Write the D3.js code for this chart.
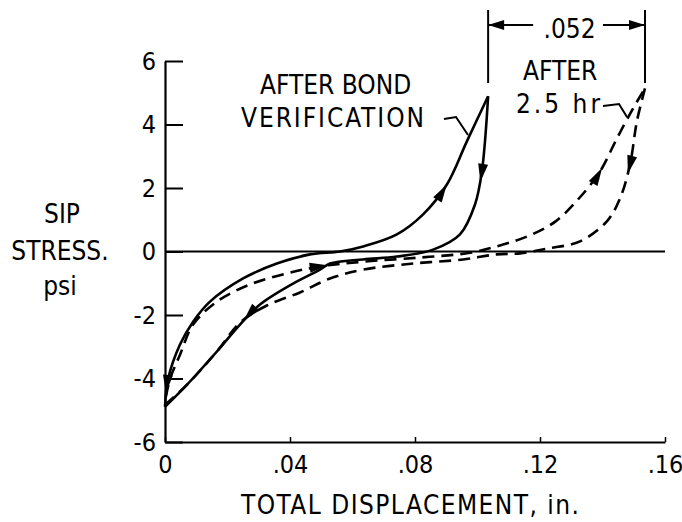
<!DOCTYPE html>
<html>
<head>
<meta charset="utf-8">
<script src="https://cdn.jsdelivr.net/npm/d3@7"></script>
<style>
  html, body { margin: 0; padding: 0; background: #fff; }
  svg { display: block; }
  text { font-family: "DejaVu Sans Condensed", "Liberation Sans Narrow", "DejaVu Sans", sans-serif; fill: #000; }
</style>
</head>
<body>
<svg id="chart" width="682" height="522"></svg>
<script>
// ---- data (x: total displacement, in.; y: SIP stress, psi) ----
const xTicks = [0, 0.04, 0.08, 0.12, 0.16];
const xTickLabels = ["0", ".04", ".08", ".12", ".16"];
const yTicks = [6, 4, 2, 0, -2, -4, -6];
const yTickLabels = ["6", "4", "2", "0", "-2", "-4", "-6"];

// After bond verification (solid) — loading branch
const bondLoad = [
  [0.0000, -4.89], [0.0010, -4.01], [0.0048, -2.93], [0.0090, -2.21], [0.0144, -1.58],
  [0.0250, -0.85], [0.0358, -0.38], [0.0464, -0.09], [0.0560, 0.00], [0.0634, 0.16],
  [0.0742, 0.54], [0.0826, 1.17], [0.0902, 2.11], [0.0966, 3.47], [0.1034, 4.89]
];
// After bond verification (solid) — unloading branch
const bondUnload = [
  [0.1034, 4.89], [0.1014, 2.52], [0.0992, 1.48], [0.0944, 0.54], [0.0858, 0.06],
  [0.0742, -0.16], [0.0634, -0.25], [0.0528, -0.38], [0.0496, -0.57], [0.0410, -1.01],
  [0.0304, -1.67], [0.0240, -2.30], [0.0166, -3.15], [0.0070, -4.20], [0.0000, -4.89]
];
// After 2.5 hr (dashed) — loading branch
const hrLoad = [
  [0.0003, -4.57], [0.0016, -4.01], [0.0048, -3.25], [0.0090, -2.30], [0.0166, -1.58],
  [0.0272, -1.04], [0.0390, -0.69], [0.0496, -0.47], [0.0634, -0.32], [0.0816, -0.19],
  [0.0976, -0.04], [0.1082, 0.22], [0.1170, 0.52], [0.1250, 0.95], [0.1320, 1.62],
  [0.1392, 2.52], [0.1446, 3.56], [0.1498, 4.51], [0.1536, 5.14]
];
// After 2.5 hr (dashed) — unloading branch
const hrUnload = [
  [0.1536, 5.14], [0.1510, 4.10], [0.1488, 2.74], [0.1456, 1.67], [0.1414, 0.95],
  [0.1328, 0.32], [0.1222, 0.09], [0.1136, -0.06], [0.1062, -0.09], [0.0954, -0.25],
  [0.0794, -0.38], [0.0634, -0.57], [0.0528, -0.85], [0.0432, -1.29], [0.0326, -1.70],
  [0.0240, -2.24], [0.0166, -3.15], [0.0070, -4.20], [0.0003, -4.80]
];
// arrowheads: series, location (data), direction (+1 along point order, -1 reverse)
const arrows = [
  { series: "bondLoad", x: 0.0896, y: 2.15, dir: 1 },
  { series: "bondUnload", x: 0.1005, y: 2.20, dir: 1 },
  { series: "hrLoad", x: 0.1405, y: 2.60, dir: 1 },
  { series: "hrUnload", x: 0.1482, y: 2.45, dir: 1 },
  { series: "hrLoad", x: 0.0520, y: -0.42, dir: 1 },
  { series: "bondUnload", x: 0.0250, y: -2.15, dir: 1 },
  { series: "bondLoad", x: 0.0004, y: -4.45, dir: -1 }
];
const dimensionValue = ".052";

// ---- drawing ----
const svg = d3.select("#chart");
const x = d3.scaleLinear().domain([0, 0.16]).range([165, 665]);
const y = d3.scaleLinear().domain([-6, 6]).range([442, 61]);

// zero line
svg.append("line")
  .attr("x1", x(0)).attr("x2", x(0.16)).attr("y1", y(0)).attr("y2", y(0))
  .attr("stroke", "#000").attr("stroke-width", 2);

// y axis
const yAxis = d3.axisLeft(y).tickValues(yTicks)
  .tickFormat((d, i) => yTickLabels[i]).tickSize(-18).tickSizeOuter(0).tickPadding(9);
const gy = svg.append("g").attr("transform", `translate(${x(0)},0)`).call(yAxis);
gy.select(".domain").attr("stroke-width", 2.2);
gy.selectAll(".tick line").attr("stroke-width", 2);
gy.selectAll(".tick text").attr("font-size", 25)
  .style("font-family", '"DejaVu Sans Condensed", "Liberation Sans Narrow", "DejaVu Sans", sans-serif');

// x axis
const xAxis = d3.axisBottom(x).tickValues(xTicks)
  .tickFormat((d, i) => xTickLabels[i]).tickSize(-5).tickSizeOuter(0).tickPadding(13);
const gx = svg.append("g").attr("transform", `translate(0,${y(-6)})`).call(xAxis);
gx.select(".domain").attr("stroke-width", 2.2);
gx.selectAll(".tick line").attr("stroke-width", 1.5);
gx.selectAll(".tick text").attr("font-size", 25)
  .style("font-family", '"DejaVu Sans Condensed", "Liberation Sans Narrow", "DejaVu Sans", sans-serif');

// curves
const line = d3.line().x(d => x(d[0])).y(d => y(d[1])).curve(d3.curveCatmullRom.alpha(0.5));
const series = { bondLoad, bondUnload, hrLoad, hrUnload };
const paths = {};
[["bondUnload", null], ["bondLoad", null], ["hrLoad", "12,7"], ["hrUnload", "12,7"]].forEach(([k, dash]) => {
  paths[k] = svg.append("path").datum(series[k]).attr("d", line)
    .attr("fill", "none").attr("stroke", "#000").attr("stroke-width", 2.6)
    .attr("stroke-dasharray", dash).attr("stroke-linecap", "butt");
});

// arrowheads placed on the curves
arrows.forEach(a => {
  const node = paths[a.series].node();
  const L = node.getTotalLength();
  const tx = x(a.x), ty = y(a.y);
  let best = 0, bd = Infinity;
  for (let l = 0; l <= L; l += 0.5) {
    const p = node.getPointAtLength(l);
    const dd = (p.x - tx) ** 2 + (p.y - ty) ** 2;
    if (dd < bd) { bd = dd; best = l; }
  }
  const p0 = node.getPointAtLength(Math.max(0, best - 3));
  const p1 = node.getPointAtLength(Math.min(L, best + 3));
  let ang = Math.atan2(p1.y - p0.y, p1.x - p0.x) * 180 / Math.PI;
  if (a.dir < 0) ang += 180;
  const tip = node.getPointAtLength(best);
  svg.append("path").attr("d", "M0,0 L-18,-5 L-18,5 Z")
    .attr("transform", `translate(${tip.x},${tip.y}) rotate(${ang})`)
    .attr("fill", "#000");
});

// axis titles
const yTitle = svg.append("g").attr("font-size", 26);
yTitle.append("text").attr("x", 62).attr("y", 223).attr("text-anchor", "middle").text("SIP");
yTitle.append("text").attr("x", 60).attr("y", 260).attr("text-anchor", "middle").text("STRESS.");
yTitle.append("text").attr("x", 60).attr("y", 295).attr("text-anchor", "middle").text("psi");
svg.append("text").attr("x", 241).attr("y", 514)
  .attr("font-size", 26).attr("textLength", 338).attr("lengthAdjust", "spacing")
  .text("TOTAL DISPLACEMENT, in.");

// annotations
const ann = svg.append("g").attr("font-size", 26);
ann.append("text").attr("x", 260).attr("y", 94).text("AFTER BOND");
ann.append("text").attr("x", 241).attr("y", 127)
  .attr("textLength", 183).attr("lengthAdjust", "spacing").text("VERIFICATION");
ann.append("text").attr("x", 523).attr("y", 80).text("AFTER");
ann.append("text").attr("x", 516).attr("y", 113)
  .attr("textLength", 84).attr("lengthAdjust", "spacing").text("2.5 hr");

// leaders
svg.append("path").attr("d", d3.line()([[444, 119], [456, 117], [468, 135]]))
  .attr("fill", "none").attr("stroke", "#000").attr("stroke-width", 2);
svg.append("path").attr("d", d3.line()([[603, 106], [619, 104], [627, 117]]))
  .attr("fill", "none").attr("stroke", "#000").attr("stroke-width", 2);

// dimension .052
const xa = x(0.1034), xb = x(0.1536), yd = 25;
svg.append("line").attr("x1", xa).attr("x2", xa).attr("y1", 10).attr("y2", 83)
  .attr("stroke", "#000").attr("stroke-width", 2);
svg.append("line").attr("x1", xb).attr("x2", xb).attr("y1", 10).attr("y2", 83)
  .attr("stroke", "#000").attr("stroke-width", 2);
svg.append("line").attr("x1", xa).attr("x2", xa + 45).attr("y1", yd).attr("y2", yd)
  .attr("stroke", "#000").attr("stroke-width", 2);
svg.append("line").attr("x1", xb - 42).attr("x2", xb).attr("y1", yd).attr("y2", yd)
  .attr("stroke", "#000").attr("stroke-width", 2);
svg.append("path").attr("d", `M${xa},${yd} l16,-5 l0,10 Z`).attr("fill", "#000");
svg.append("path").attr("d", `M${xb},${yd} l-16,-5 l0,10 Z`).attr("fill", "#000");
svg.append("text").attr("x", (xa + xb) / 2 + 3).attr("y", 38).attr("text-anchor", "middle")
  .attr("font-size", 26).text(dimensionValue);
</script>
</body>
</html>
